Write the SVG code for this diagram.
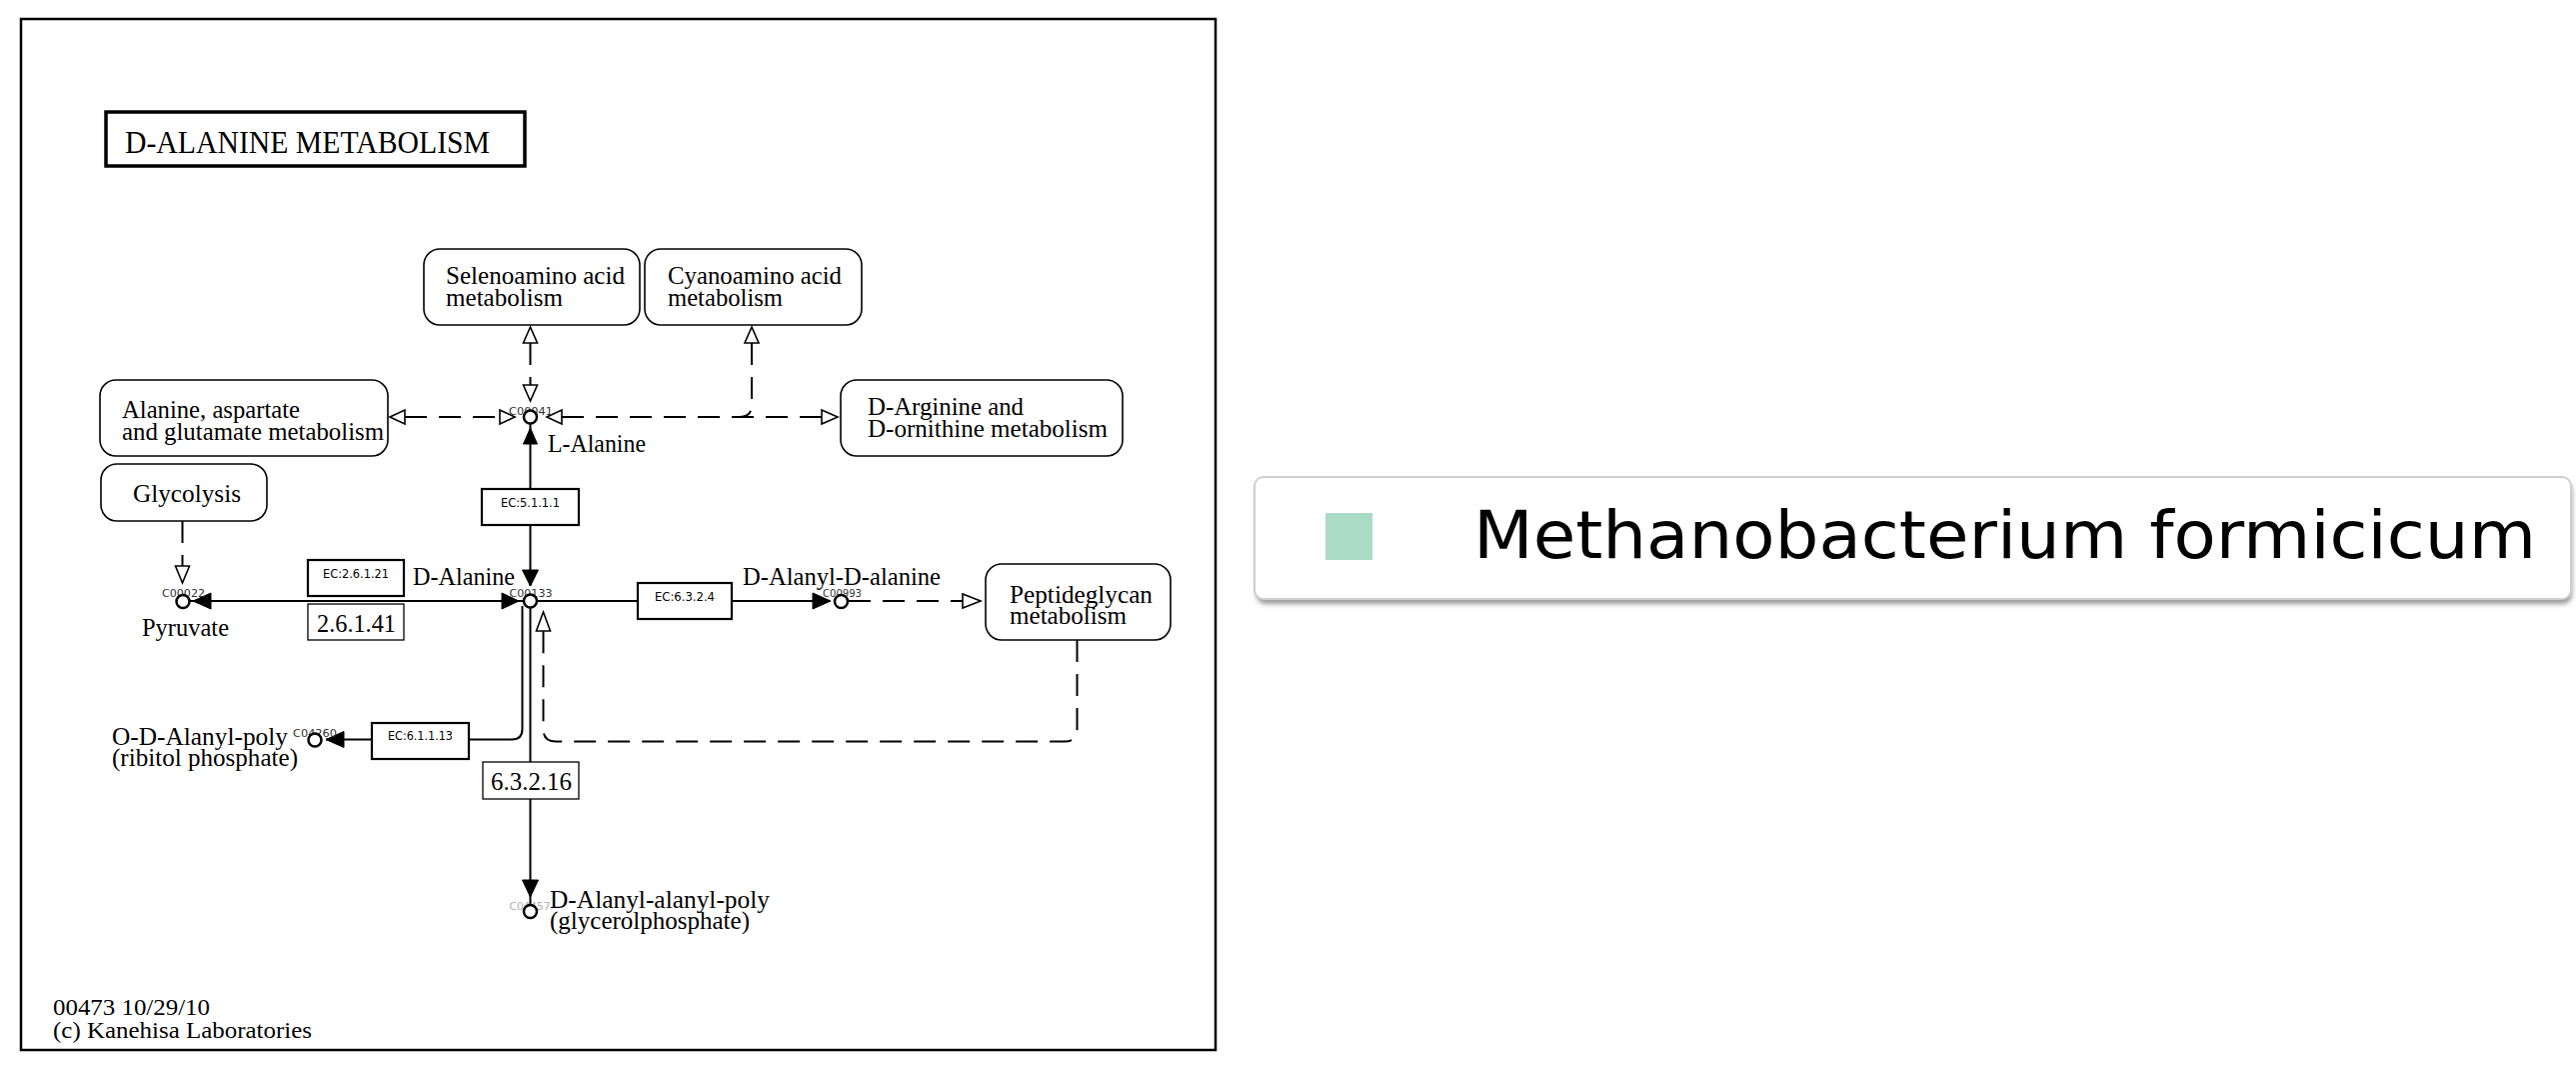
<svg xmlns="http://www.w3.org/2000/svg" width="2577" height="1075" viewBox="0 0 2577 1075">
<style>
.bg{fill:#fff}
.frame{fill:none;stroke:#000;stroke-width:2.5}
.map{fill:#fff;stroke:#000;stroke-width:1.6}
.ec{fill:#fff;stroke:#000;stroke-width:2.2}
.num{fill:#fff;stroke:#000;stroke-width:1.3}
.t{font-family:"Liberation Serif",serif;font-size:26px;fill:#000}
.ect{font-family:"DejaVu Sans","Liberation Sans",sans-serif;font-size:12px;fill:#000}
.cid{font-family:"DejaVu Sans","Liberation Sans",sans-serif;font-size:11px;fill:#333}
.cpd{fill:#fff;stroke:#000;stroke-width:2.5}
.ln{stroke:#000;stroke-width:2;fill:none}
.dl{stroke:#000;stroke-width:2;fill:none;stroke-dasharray:22 12}
.fa{fill:#000;stroke:#000;stroke-width:1}
.oa{fill:#fff;stroke:#000;stroke-width:1.6}
</style>
<defs>
<filter id="sh" x="-5%" y="-20%" width="110%" height="150%"><feGaussianBlur stdDeviation="2.5"/></filter>
</defs>
<rect class="bg" x="0" y="0" width="2577" height="1075"/>
<rect class="frame" x="21" y="19" width="1195" height="1031"/>

<g id="title">
<rect x="106" y="112" width="419" height="54" fill="#fff" stroke="#000" stroke-width="3.5"/>
<text class="t" x="125" y="153" style="font-size:31px" textLength="365" lengthAdjust="spacingAndGlyphs">D-ALANINE  METABOLISM</text>
</g>

<g id="connectors">
<path class="dl" d="M530.5,343 V385"/>
<path class="dl" d="M405,417 H500"/>
<path class="dl" d="M562,417 H822"/>
<path class="dl" d="M752,343 V405 Q752,417 740,417"/>
<path class="dl" d="M182.5,521 V566"/>
<path class="dl" d="M849,601 H963"/>
<path class="dl" d="M1077.5,640 V729 Q1077.5,741.5 1065,741.5 H556 Q543.5,741.5 543.5,729 V631"/>
<path class="ln" d="M530.5,424 V586"/>
<path class="ln" d="M190,601 H523"/>
<path class="ln" d="M537,601 H830"/>
<path class="ln" d="M522.5,606 V729 Q522.5,739.5 512,739.5 H326"/>
<path class="ln" d="M530.5,607 V905"/>
<polygon class="fa" points="530.5,428 523.5,444 537.5,444"/>
<polygon class="fa" points="530.5,586 522.5,570 538.5,570"/>
<polygon class="fa" points="519,601 502,593 502,609"/>
<polygon class="fa" points="193,601 211,593 211,609"/>
<polygon class="fa" points="831,601 813,593 813,609"/>
<polygon class="fa" points="326,739.5 344,731.5 344,747.5"/>
<polygon class="fa" points="530.5,897 522.5,880 538.5,880"/>
<polygon class="oa" points="530.5,327 523.5,343 537.5,343"/>
<polygon class="oa" points="530.5,401 523.5,385 537.5,385"/>
<polygon class="oa" points="390,417 405,410 405,424"/>
<polygon class="oa" points="515,417 500,410 500,424"/>
<polygon class="oa" points="547,417 562,410 562,424"/>
<polygon class="oa" points="838,417 822,410 822,424"/>
<polygon class="oa" points="752,327 745,343 759,343"/>
<polygon class="oa" points="182.5,583 175.5,566 189.5,566"/>
<polygon class="oa" points="981,601 963,594 963,608"/>
<polygon class="oa" points="543.5,612 536.5,631 550.5,631"/>
</g>

<g id="map-selenoamino">
<rect class="map" x="424" y="249" width="216" height="76" rx="16"/>
<text class="t" x="446" y="284" textLength="179" lengthAdjust="spacingAndGlyphs">Selenoamino acid</text>
<text class="t" x="446" y="306" textLength="117" lengthAdjust="spacingAndGlyphs">metabolism</text>
</g>
<g id="map-cyanoamino">
<rect class="map" x="645" y="249" width="217" height="76" rx="16"/>
<text class="t" x="668" y="284" textLength="174" lengthAdjust="spacingAndGlyphs">Cyanoamino acid</text>
<text class="t" x="668" y="306" textLength="115" lengthAdjust="spacingAndGlyphs">metabolism</text>
</g>
<g id="map-alanine-aspartate">
<rect class="map" x="100" y="380" width="288" height="76" rx="16"/>
<text class="t" x="122" y="418" textLength="178" lengthAdjust="spacingAndGlyphs">Alanine, aspartate</text>
<text class="t" x="122" y="440" textLength="262" lengthAdjust="spacingAndGlyphs">and glutamate metabolism</text>
</g>
<g id="map-d-arginine">
<rect class="map" x="841" y="380" width="282" height="76" rx="16"/>
<text class="t" x="868" y="415" textLength="156" lengthAdjust="spacingAndGlyphs">D-Arginine and</text>
<text class="t" x="868" y="437" textLength="240" lengthAdjust="spacingAndGlyphs">D-ornithine metabolism</text>
</g>
<g id="map-glycolysis">
<rect class="map" x="101" y="464" width="166" height="57" rx="16"/>
<text class="t" x="133" y="502" textLength="108" lengthAdjust="spacingAndGlyphs">Glycolysis</text>
</g>
<g id="map-peptidoglycan">
<rect class="map" x="986" y="564" width="185" height="76" rx="16"/>
<text class="t" x="1010" y="603" textLength="143" lengthAdjust="spacingAndGlyphs">Peptideglycan</text>
<text class="t" x="1010" y="624" textLength="117" lengthAdjust="spacingAndGlyphs">metabolism</text>
</g>

<g id="ec-5.1.1.1">
<rect class="ec" x="482" y="489" width="97" height="36"/>
<text class="ect" x="530.5" y="507" text-anchor="middle" textLength="59" lengthAdjust="spacingAndGlyphs">EC:5.1.1.1</text>
</g>
<g id="ec-2.6.1.21">
<rect class="ec" x="308" y="560" width="96" height="36"/>
<text class="ect" x="356" y="578" text-anchor="middle" textLength="66" lengthAdjust="spacingAndGlyphs">EC:2.6.1.21</text>
</g>
<g id="ec-2.6.1.41">
<rect class="num" x="308" y="604" width="96" height="36"/>
<text class="t" x="356.5" y="632" text-anchor="middle" textLength="79" lengthAdjust="spacingAndGlyphs">2.6.1.41</text>
</g>
<g id="ec-6.3.2.4">
<rect class="ec" x="638" y="583" width="94" height="36"/>
<text class="ect" x="685" y="601" text-anchor="middle" textLength="60" lengthAdjust="spacingAndGlyphs">EC:6.3.2.4</text>
</g>
<g id="ec-6.1.1.13">
<rect class="ec" x="372" y="723" width="97" height="36"/>
<text class="ect" x="420.5" y="740" text-anchor="middle" textLength="65" lengthAdjust="spacingAndGlyphs">EC:6.1.1.13</text>
</g>
<g id="ec-6.3.2.16">
<rect class="num" x="483" y="762" width="96" height="37"/>
<text class="t" x="531.5" y="790" text-anchor="middle" textLength="81" lengthAdjust="spacingAndGlyphs">6.3.2.16</text>
</g>

<g id="cpd-C00041">
<text class="cid" x="531" y="415" text-anchor="middle" textLength="44" lengthAdjust="spacingAndGlyphs">C00041</text>
<circle class="cpd" cx="530.5" cy="417" r="6.5"/>
<text class="t" x="548" y="452" textLength="98" lengthAdjust="spacingAndGlyphs">L-Alanine</text>
</g>
<g id="cpd-C00133">
<text class="cid" x="531" y="597" text-anchor="middle" textLength="43" lengthAdjust="spacingAndGlyphs">C00133</text>
<circle class="cpd" cx="530.5" cy="601" r="6.5"/>
<text class="t" x="413" y="585" textLength="102" lengthAdjust="spacingAndGlyphs">D-Alanine</text>
</g>
<g id="cpd-C00022">
<text class="cid" x="183.5" y="597" text-anchor="middle" textLength="43" lengthAdjust="spacingAndGlyphs">C00022</text>
<circle class="cpd" cx="183" cy="601.5" r="6.5"/>
<text class="t" x="142" y="636" textLength="87" lengthAdjust="spacingAndGlyphs">Pyruvate</text>
</g>
<g id="cpd-C00993">
<text class="cid" x="842.5" y="597" text-anchor="middle" textLength="39" lengthAdjust="spacingAndGlyphs">C00993</text>
<circle class="cpd" cx="841.5" cy="601.5" r="6.5"/>
<text class="t" x="743" y="585" textLength="198" lengthAdjust="spacingAndGlyphs">D-Alanyl-D-alanine</text>
</g>
<g id="cpd-C04260">
<text class="cid" x="315" y="737" text-anchor="middle" textLength="44" lengthAdjust="spacingAndGlyphs">C04260</text>
<circle class="cpd" cx="315" cy="740" r="6.5"/>
<text class="t" x="112" y="745" textLength="176" lengthAdjust="spacingAndGlyphs">O-D-Alanyl-poly</text>
<text class="t" x="112" y="766" textLength="186" lengthAdjust="spacingAndGlyphs">(ribitol phosphate)</text>
</g>
<g id="cpd-C04457">
<text class="cid" x="530" y="910" text-anchor="middle" textLength="41" lengthAdjust="spacingAndGlyphs" style="fill:#b0b0b0">C04457</text>
<circle class="cpd" cx="530.5" cy="911.5" r="6.5"/>
<text class="t" x="550" y="908" textLength="220" lengthAdjust="spacingAndGlyphs">D-Alanyl-alanyl-poly</text>
<text class="t" x="550" y="929" textLength="200" lengthAdjust="spacingAndGlyphs">(glycerolphosphate)</text>
</g>

<g id="footer">
<text class="t" x="53" y="1015" style="font-size:23px" textLength="157" lengthAdjust="spacingAndGlyphs">00473 10/29/10</text>
<text class="t" x="53" y="1038" style="font-size:23px" textLength="259" lengthAdjust="spacingAndGlyphs">(c) Kanehisa Laboratories</text>
</g>

<g id="legend">
<rect x="1257" y="481" width="1316" height="123" rx="9" fill="#9a9a9a" filter="url(#sh)"/>
<rect x="1255" y="477" width="1317" height="122" rx="9" fill="#fff" stroke="#cfcfcf" stroke-width="2"/>
<rect x="1326" y="513" width="47" height="47" fill="#aadcc5"/>
<text x="1474" y="558" font-family="DejaVu Sans, sans-serif" font-size="66" fill="#000" textLength="1063" lengthAdjust="spacingAndGlyphs">Methanobacterium formicicum</text>
</g>
</svg>
